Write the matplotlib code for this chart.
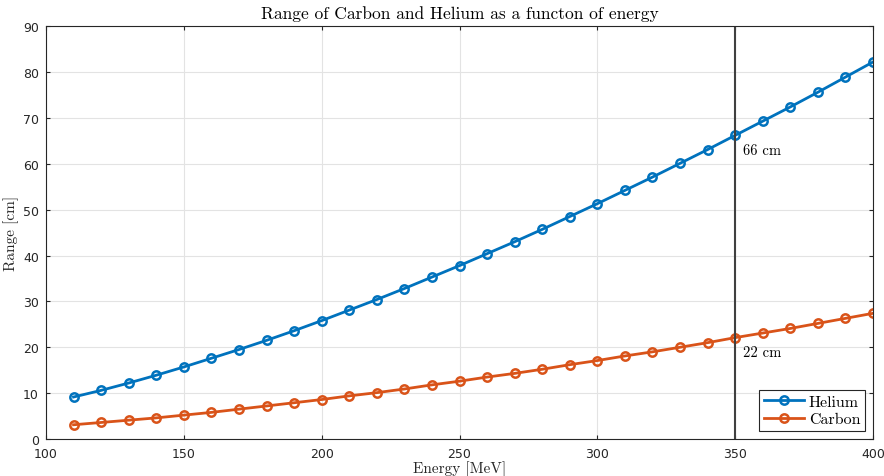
import matplotlib
matplotlib.use("Agg")
import matplotlib.pyplot as plt

energy = [110, 120, 130, 140, 150, 160, 170, 180, 190, 200, 210, 220, 230, 240, 250,
          260, 270, 280, 290, 300, 310, 320, 330, 340, 350, 360, 370, 380, 390, 400]
helium = [9.15, 10.6, 12.2, 13.9, 15.7, 17.6, 19.5, 21.5, 23.6, 25.8, 28.1, 30.4, 32.8, 35.3, 37.8,
          40.4, 43.0, 45.7, 48.5, 51.3, 54.2, 57.1, 60.1, 63.1, 66.2, 69.3, 72.4, 75.6, 78.9, 82.2]
carbon = [3.1, 3.6, 4.1, 4.6, 5.2, 5.8, 6.5, 7.2, 7.9, 8.6, 9.4, 10.1, 10.9, 11.8, 12.6,
          13.5, 14.3, 15.2, 16.2, 17.1, 18.1, 19.0, 20.0, 21.0, 22.1, 23.1, 24.1, 25.2, 26.3, 27.4]
marker_energy = 350
labels = ['66 cm', '22 cm']

serif = 'cmr10'

fig = plt.figure(figsize=(8.84, 4.77), dpi=100)
ax = fig.add_axes([0.052, 0.0776, 0.9356, 0.8654])

ax.plot(energy, helium, '-o', color='#0072BD', lw=2, ms=6, mfc='none', mew=1.8, label='Helium')
ax.plot(energy, carbon, '-o', color='#D95319', lw=2, ms=6, mfc='none', mew=1.8, label='Carbon')
ax.axvline(marker_energy, color='#404040', lw=1.5)
ax.text(marker_energy + 3, 63, labels[0], fontfamily=serif, fontsize=10.5, va='center')
ax.text(marker_energy + 3, 19, labels[1], fontfamily=serif, fontsize=10.5, va='center')

ax.set_xlim(100, 400)
ax.set_ylim(0, 90)
ax.set_xticks(range(100, 401, 50))
ax.set_yticks(range(0, 91, 10))
ax.grid(True, color='#e3e3e3', lw=0.8)
ax.set_axisbelow(True)
ax.tick_params(direction='in', top=True, right=True, labelsize=9, colors='#262626', length=3)
ax.tick_params(axis='x', pad=6)
ax.tick_params(axis='y', pad=5)
for s in ax.spines.values():
    s.set_color('#262626')
    s.set_linewidth(0.8)

ax.set_title('Range of Carbon and Helium as a functon of energy', fontfamily=serif, fontsize=12.5, pad=6)
ax.set_xlabel('Energy [MeV]', fontfamily=serif, fontsize=11, labelpad=0, color='#262626')
ax.set_ylabel('Range [cm]', fontfamily=serif, fontsize=11, labelpad=3, color='#262626')

leg = ax.legend(loc='lower right', prop={'family': serif, 'size': 11.5}, fancybox=False,
                edgecolor='#262626', framealpha=1, handlelength=2.5, borderpad=0.3,
                handletextpad=0.3, labelspacing=0.2, borderaxespad=0.5)
leg.get_frame().set_linewidth(0.8)

fig.savefig('out.png', dpi=100)
